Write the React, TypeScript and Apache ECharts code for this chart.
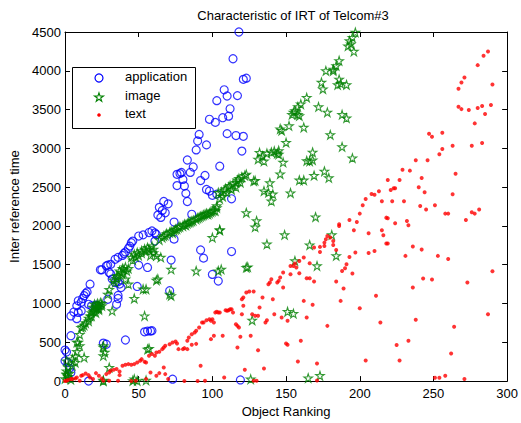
import React, { useEffect, useRef } from 'react';
import * as echarts from 'echarts';

const TITLE = 'Characteristic of IRT of Telcom#3';
const X_NAME = 'Object Ranking';
const Y_NAME = 'Inter reference time';
const SERIES_NAMES = ['application', 'image', 'text'];
const X_MIN = 0, X_MAX = 300, X_STEP = 50;
const Y_MIN = 0, Y_MAX = 4500, Y_STEP = 500;

const application: number[][] = [
  [118,4500],[114,4155],[121,3890],[123,3905],[108,3755],[110,3675],[117,3680],[103,3615],[112,3510],[98,3375],
  [102,3335],[107,3395],[111,3415],[91,3180],[90,3095],[96,3045],[110,3190],[116,3165],[121,3155],[120,2965],
  [89,2980],[83,2850],[87,2760],[105,2770],[76,2665],[78,2675],[79,2690],[85,2690],[95,2650],[92,2585],
  [80,2600],[76,2520],[81,2515],[82,2420],[96,2470],[98,2450],[100,2395],[103,2410],[113,2350],[83,2315],
  [67,2315],[70,2285],[64,2240],[66,2200],[68,2170],[63,2140],[65,2110],[86,2150],[74,2050],[59,1935],
  [61,1910],[62,1890],[57,1915],[53,1885],[50,1870],[61,1805],[46,1805],[44,1740],[45,1785],[43,1710],
  [41,1665],[39,1620],[40,1645],[36,1595],[34,1570],[72,1560],[56,1465],[50,1495],[31,1505],[29,1495],
  [28,1485],[25,1435],[24,1435],[30,1400],[31,1380],[32,1315],[34,1270],[36,1280],[37,1250],[49,1220],
  [38,1205],[17,1250],[15,1150],[13,1100],[12,1065],[14,1130],[9,1035],[11,1015],[8,970],[36,1105],
  [36,1065],[35,990],[29,1055],[16,990],[18,970],[21,980],[22,970],[6,890],[4,840],[9,885],
  [11,905],[8,805],[4,585],[0,400],[1,375],[0,260],[2,240],[3,165],[4,110],[16,0],
  [26,490],[28,475],[41,530],[54,635],[56,645],[58,645],[59,650],[71,1165],[73,25],[92,1690],
  [94,1585],[100,1375],[104,1290],[113,1670],[119,15],[74,1830]
];

const image: number[][] = [
  [0,30],[1,80],[1,130],[2,60],[2,180],[1,260],[3,100],[4,20],[5,285],[5,200],[7,240],[7,320],[8,500],[8,380],
  [9,500],[10,455],[10,600],[11,690],[12,700],[13,720],[13,305],[14,750],[16,775],[16,810],[17,840],[18,840],
  [18,880],[19,900],[20,905],[21,930],[21,960],[22,950],[23,980],[23,940],[25,970],[25,1000],[26,455],[27,370],
  [30,175],[26,10],[32,905],[29,1120],[30,1180],[34,1270],[35,1320],[36,1360],[38,1400],[39,1380],[40,1440],
  [41,1315],[43,1250],[43,1450],[45,1595],[46,1560],[47,1635],[49,1655],[52,1680],[54,1700],[56,1720],[54,840],
  [57,420],[55,10],[47,25],[53,1185],[58,1620],[60,1655],[62,1615],[65,1595],[63,1315],[66,1850],[68,1880],
  [71,1915],[72,1930],[73,1910],[75,1955],[77,1980],[80,2000],[81,2020],[82,2010],[84,2045],[86,2060],[89,2085],
  [90,2100],[91,2110],[93,2130],[95,2150],[98,2165],[99,2180],[100,2190],[102,2195],[72,1440],[72,1100],[89,1420],
  [100,1850],[105,1950],[104,1420],[106,1440],[103,2235],[123,1465],[123,2170],[127,785],[126,25],[103,2260],
  [104,2430],[106,2435],[108,2460],[109,2480],[111,2500],[112,2520],[114,2540],[116,2560],[117,2590],[118,2610],
  [120,2630],[122,2650],[123,2665],[110,2430],[113,2470],[116,2500],[119,2560],[105,2350],[107,2380],
  [26,435],[26,325],[56,410],[47,1065],[55,1185],[62,1300],[71,1120],[1,90],[26,0],[46,5],[49,5],
  [19,950],[20,990],[22,1000],[24,1010],[23,920],[21,880],[33,1300],[35,1350],[37,1420],[39,1450],[41,1470],
  [42,1420],[48,1600],[50,1620],[52,1650],[55,1680],[57,1700],[59,1740],[60,1700],[64,1820],[67,1870],[69,1900],
  [74,1940],[76,1960],[78,1990],[83,2030],[85,2050],[87,2070],[92,2120],[94,2140],[96,2160],[97,2150],[101,2200],
  [130,2065],[129,1985],[105,1945],[137,1765],[124,1470],[197,4495],[195,4430],[193,4385],[192,4320],
  [194,4345],[196,4250],[186,4130],[184,4065],[182,4020],[177,4000],[182,4000],[174,3850],[175,3765],[186,3890],
  [187,3835],[185,3820],[191,3820],[164,3655],[160,3570],[158,3535],[155,3465],[156,3485],[158,3435],[159,3420],
  [154,3435],[172,3535],[178,3465],[188,3435],[191,3390],[152,3290],[146,3250],[147,3230],[162,3270],[150,3075],
  [180,3175],[145,2925],[145,2970],[148,2820],[188,3020],[168,2950],[195,2875],[164,2840],[166,2835],[168,2850],
  [146,2670],[159,2590],[162,2590],[169,2650],[176,2705],[179,2620],[153,2425],[170,2115],[149,1885],[166,1755],
  [181,1885],[184,1615],[156,1550],[171,1485],[151,895],[155,870],[165,40],[173,70],[140,2320],[132,2945],
  [134,2900],[135,2835],[137,2935],[140,2950],[142,2965],[144,2935],[131,2860],[128,2580],[139,2555],[135,2450],
  [138,2430],[141,2410],[129,2585]
];

const text: number[][] = [
  [0,0],[1,4],[2,13],[4,26],[5,26],[7,34],[8,47],[10,4],[11,69],[12,77],[14,99],[16,77],[17,47],[19,26],
  [21,103],[23,69],[25,34],[26,4],[28,90],[30,112],[31,133],[33,146],[35,155],[37,124],[37,77],[39,197],
  [41,210],[43,219],[45,210],[47,219],[49,240],[51,262],[52,283],[54,249],[55,240],[57,326],[59,348],[61,326],
  [62,369],[64,378],[66,412],[67,434],[68,455],[30,4],[36,4],[45,0],[48,4],[55,26],[58,112],[62,69],[64,103],
  [67,176],[68,90],[70,26],
  [71,476],[73,498],[75,511],[76,485],[77,412],[80,412],[81,425],[83,412],[83,519],[84,562],[86,605],[88,627],
  [89,648],[91,691],[93,755],[94,755],[96,785],[98,798],[99,777],[100,798],[101,755],[102,884],[103,893],
  [104,884],[105,884],[109,914],[110,906],[111,914],[112,927],[113,927],[114,884],[116,734],[117,712],[118,691],
  [119,571],[120,863],[121,970],[120,1056],[121,1077],[123,1142],[125,1155],[128,1155],[127,863],[129,841],
  [131,841],[134,1077],[132,949],[136,755],[137,785],[138,1249],[139,1271],[140,1313],[142,863],[144,1271],
  [145,1292],[147,820],[148,1399],[141,1056],[99,541],[101,584],[107,584],[117,434],[126,584],[131,399],
  [135,163],[122,146],[92,197],[108,47],[130,4],[128,4],[81,0],[90,0],[95,4],[86,468],[89,480],
  [202,2266],[200,2159],[193,2077],[198,2051],[186,2022],[186,2000],[218,2107],[196,1944],[206,1906],[215,1944],
  [216,1880],[218,1773],[178,1871],[180,1850],[177,1828],[182,1807],[176,1785],[176,1742],[173,1730],[169,1721],
  [173,1665],[182,1755],[184,1691],[193,1601],[197,1657],[206,1652],[210,1678],[162,1592],[159,1549],[156,1515],
  [155,1485],[153,1485],[157,1464],[166,1519],[191,1506],[190,1455],[188,1420],[195,1386],[153,1378],[159,1390],
  [146,1335],[164,1326],[166,1326],[169,1283],[184,1283],[189,1193],[148,1206],[211,1099],[162,1034],[168,983],
  [187,1034],[200,940],[164,820],[151,777],[214,755],[178,712],[150,485],[151,468],[160,519],[158,253],
  [171,227],[204,266],[171,9],
  [204,2347],[208,2412],[210,2403],[213,2446],[215,2318],
  [287,4249],[284,4193],[280,4073],[290,3824],[271,3914],[269,3850],[267,3769],[267,3537],[269,3506],[274,3494],
  [280,3519],[283,3545],[289,3558],[285,3442],[278,3322],[247,3189],[249,3150],[256,3202],[263,3034],[276,3034],
  [283,3069],[256,2991],[254,2923],[238,2846],[246,2846],[229,2725],[234,2713],[265,2674],[242,2618],[219,2592],
  [227,2592],[240,2498],[221,2463],[223,2485],[224,2485],[244,2434],[263,2408],[222,2318],[230,2318],[241,2257],
  [251,2266],
  [245,2211],[258,2159],[260,2159],[276,2176],[278,2159],[281,2211],[272,2077],[219,2099],[224,2034],[232,2064],
  [233,2009],[236,1734],[242,1695],[231,1614],[253,1614],[260,1575],[290,1416],[243,1322],[249,1309],[273,1271],
  [236,1206],[287,863],[238,790],[264,700],[233,519],[225,464],[262,356],[227,266],[251,43],[254,43],
  [258,69],[271,26],[219,1773]
];

const FONT = "'Liberation Sans', Arial, Helvetica, sans-serif";
const STAR = 'path://M10 0L12.25 6.91L19.51 6.91L13.63 11.18L15.88 18.09L10 13.82L4.12 18.09L6.37 11.18L0.49 6.91L7.75 6.91Z';
const BLUE = '#0000ff';
const GREEN = '#008000';
const RED = '#ff0000';

function starPoints(cx: number, cy: number, R: number, r: number): number[][] {
  const pts: number[][] = [];
  for (let i = 0; i < 10; i++) {
    const a = (-90 + i * 36) * Math.PI / 180;
    const rad = i % 2 === 0 ? R : r;
    pts.push([cx + rad * Math.cos(a), cy + rad * Math.sin(a)]);
  }
  return pts;
}

export default function App() {
  const ref = useRef<HTMLDivElement>(null);
  useEffect(() => {
    if (!ref.current) return;
    const chart = echarts.init(ref.current, null, { renderer: 'svg' });
    const axisCommon = {
      type: 'value' as const,
      axisLine: { show: true, onZero: false, lineStyle: { color: '#000', width: 1 } },
      axisTick: { show: true, inside: true, length: 5, lineStyle: { color: '#000', width: 1 } },
      splitLine: { show: false },
    };
    const labelStyle = { color: '#000', fontSize: 13, fontFamily: FONT };
    const legendText = (label: string, y: number) => ({
      type: 'text', left: 125, top: y - 7,
      style: { text: label, fill: '#000', font: `13px ${FONT}` },
    });
    chart.setOption({
      animation: false,
      backgroundColor: '#fff',
      title: {
        text: TITLE,
        left: 288,
        top: 4,
        textAlign: 'center',
        textStyle: { color: '#000', fontSize: 13, fontWeight: 'normal', fontFamily: FONT },
      },
      grid: { left: 65, right: 10, top: 32, bottom: 41, containLabel: false },
      xAxis: [
        {
          ...axisCommon, min: X_MIN, max: X_MAX, interval: X_STEP, position: 'bottom',
          name: X_NAME, nameLocation: 'middle', nameGap: 20,
          nameTextStyle: labelStyle,
          axisLabel: { ...labelStyle, margin: 6 },
        },
        {
          ...axisCommon, min: X_MIN, max: X_MAX, interval: X_STEP, position: 'top',
          axisLabel: { show: false },
        },
      ],
      yAxis: [
        {
          ...axisCommon, min: Y_MIN, max: Y_MAX, interval: Y_STEP, position: 'left',
          name: Y_NAME, nameLocation: 'middle', nameGap: 42,
          nameTextStyle: labelStyle,
          axisLabel: { ...labelStyle, margin: 4, formatter: (v: number) => String(v) },
        },
        {
          ...axisCommon, min: Y_MIN, max: Y_MAX, interval: Y_STEP, position: 'right',
          axisLabel: { show: false },
        },
      ],
      graphic: [
        {
          type: 'group',
          z: 100,
          children: [
            { type: 'rect', shape: { x: 72.5, y: 67.5, width: 123, height: 61 }, style: { fill: '#fff', stroke: '#000', lineWidth: 1 } },
            { type: 'circle', shape: { cx: 99, cy: 78, r: 4 }, style: { fill: 'none', stroke: BLUE, lineWidth: 1.2 } },
            { type: 'polygon', shape: { points: starPoints(99, 97.5, 4.7, 1.8) }, style: { fill: 'none', stroke: GREEN, lineWidth: 1.1 } },
            { type: 'circle', shape: { cx: 99, cy: 115, r: 1.8 }, style: { fill: RED, stroke: 'none' } },
            legendText(SERIES_NAMES[0], 77),
            legendText(SERIES_NAMES[1], 96),
            legendText(SERIES_NAMES[2], 114),
          ],
        },
      ],
      series: [
        {
          name: SERIES_NAMES[0], type: 'scatter', data: application, clip: false,
          symbol: 'circle', symbolSize: 8,
          itemStyle: { color: 'rgba(0,0,0,0)', borderColor: BLUE, borderWidth: 1.2 },
        },
        {
          name: SERIES_NAMES[1], type: 'scatter', data: image, clip: false,
          symbol: STAR, symbolSize: 8.5,
          itemStyle: { color: 'rgba(0,0,0,0)', borderColor: GREEN, borderWidth: 1.1 },
        },
        {
          name: SERIES_NAMES[2], type: 'scatter', data: text, clip: false,
          symbol: 'circle', symbolSize: 4,
          itemStyle: { color: RED },
        },
      ],
    });
    return () => chart.dispose();
  }, []);
  return (
    <div
      ref={ref}
      style={{ position: 'fixed', left: 0, top: 0, width: 521, height: 423, background: '#fff' }}
    />
  );
}
